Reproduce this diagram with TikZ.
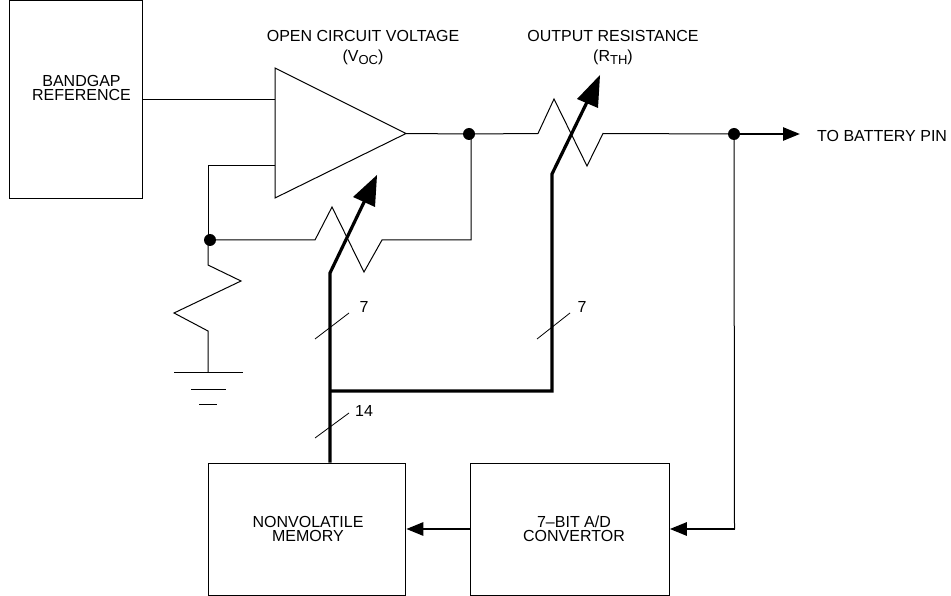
\documentclass[tikz,border=0pt]{standalone}
\usepackage{fontspec}
\setmainfont{Liberation Sans}
\usetikzlibrary{arrows.meta}
\newcommand{\subsc}[1]{\raisebox{-3pt}{\fontsize{13}{13}\selectfont #1}}
\tikzset{
 x=1pt,y=-1pt,
 thin line/.style={draw=black,line width=1pt,line join=miter},
 bus/.style={draw=black,line width=3.2pt,line join=miter},
 block/.style={draw=black,line width=1pt,inner sep=0pt},
 blocktext/.style={inner sep=0pt,align=center,font=\fontsize{16}{14.5}\selectfont},
 lbl/.style={inner sep=0pt,align=center,font=\fontsize{16}{20}\selectfont},
 dot/.style={circle,fill=black,inner sep=0pt,minimum size=12pt},
 smalltip/.style={-{Triangle[length=17pt,width=13pt]},line width=2.6pt},
}
\begin{document}
\begin{tikzpicture}
\useasboundingbox (0,0) rectangle (951,596);
% blocks
\node[block,minimum width=132.5pt,minimum height=198pt,label={[blocktext,yshift=12pt,xshift=5.5pt]center:BANDGAP\\REFERENCE}] (bg) at (76,100) {};
\node[block,minimum width=197.5pt,minimum height=132pt,label={[blocktext,xshift=1pt]center:NONVOLATILE\\MEMORY}] (nv) at (307,529) {};
\node[block,minimum width=198.5pt,minimum height=132pt,label={[blocktext,xshift=4pt]center:7–BIT A/D\\CONVERTOR}] (ad) at (570,529) {};
% amplifier
\coordinate (ta) at (275,68);
\coordinate (tb) at (275,198);
\coordinate (tc) at (406,133.5);
\draw[thin line] (ta) -- (tb) -- (tc) -- cycle;
% junctions
\node[dot] (j1) at (210,240) {};
\node[dot] (j2) at (469,134) {};
\node[dot] (j3) at (734,134) {};
% named points
\coordinate (inp) at (275,100);
\coordinate (inm) at (275,166);
\coordinate (fbc) at (208,166);
\coordinate (bgr) at (bg.east |- inp);
\coordinate (fbr) at (471,240);
\coordinate (gt) at (208,372);
\coordinate (out) at (800,134);
\coordinate (corner) at (734.5,529);
\coordinate (busj) at (330,391);
\coordinate (busk) at (552,391);
% wires
\draw[thin line] (bgr) -- (inp);
\draw[thin line] (inm) -- (fbc) -- (208,240);
\draw[thin line] (j1) -- (315,240) -- (332,207) -- (364,272) -- (382,240) -- (fbr) -- (471,133.5);
\draw[thin line] (tc) -- (j2.center) -- (538,133.5) -- (554,99) -- (587,166) -- (603,133.5) -- (j3.center);
\draw[thin line] (208,240) -- (208,265) -- (241,281) -- (174,313) -- (208,331) -- (gt);
\draw[thin line] (j3.center) -- (corner);
% ground
\draw[thin line] (174,372) -- (243,372);
\draw[thin line] (191,389) -- (226,389);
\draw[thin line] (199,404) -- (217,404);
% thick arrows
\draw[smalltip] (j3.center) -- (out);
\draw[smalltip] (corner) -- (ad.east |- corner);
\draw[smalltip] (ad.west) -- (nv.east);
\draw[bus] (nv.north -| busj) -- (busj) -- (330,273) -- (366,198);
\draw[bus] (busj) -- (busk) -- (552,174) -- (589,98);
\fill[black] (377,175) -- (353,197) -- (375,207) -- cycle;
\fill[black] (600,75) -- (577,99) -- (598,108) -- cycle;
% bus slashes
\draw[line width=0.8pt] (315,339) -- (349,313);
\draw[line width=0.8pt] (315,438) -- (349,413);
\draw[line width=0.8pt] (537,339) -- (570,313);
% labels
\node[lbl] (l7a) at (364,307) {7};
\node[lbl] (l14) at (364,411) {14};
\node[lbl] (l7b) at (582,307) {7};
\node[lbl] (voc) at (363,48) {OPEN CIRCUIT VOLTAGE\\(V\subsc{OC})};
\node[lbl] (rth) at (613,48) {OUTPUT RESISTANCE\\(R\subsc{TH})};
\node[lbl,anchor=west] (batt) at (817,136) {TO BATTERY PIN};
\end{tikzpicture}
\end{document}
